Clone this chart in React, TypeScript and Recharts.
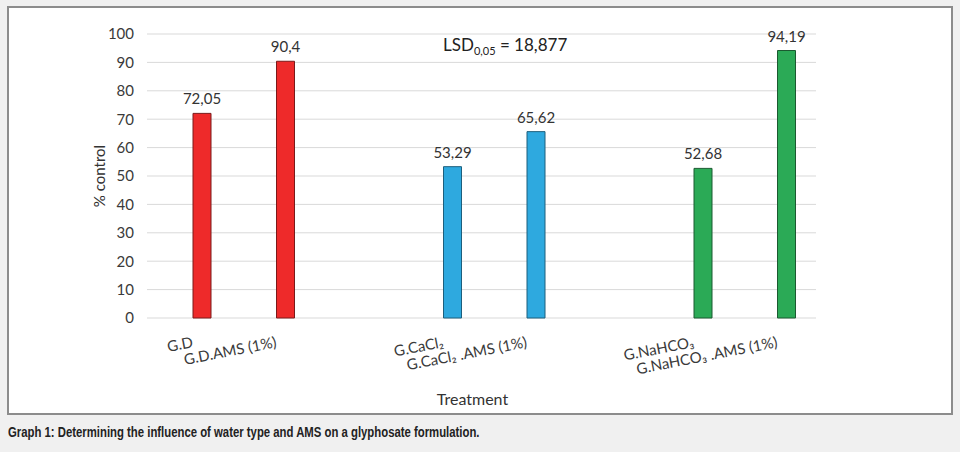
import React from 'react';
import { BarChart, Bar, XAxis, YAxis, CartesianGrid, Cell, LabelList } from 'recharts';

const categories = ['G.D', 'G.D.AMS (1%)', '', 'G.CaCl₂', 'G.CaCl₂ .AMS (1%)', '', 'G.NaHCO₃', 'G.NaHCO₃ .AMS (1%)'];
const values: (number | null)[] = [72.05, 90.4, null, 53.29, 65.62, null, 52.68, 94.19];
const colors = ['#EE2A2A', '#EE2A2A', '#fff', '#2EA9DF', '#2EA9DF', '#fff', '#2BAA56', '#2BAA56'];
const strokes = ['#7a1a1a', '#7a1a1a', '#fff', '#1d5f7d', '#1d5f7d', '#fff', '#1b5a30', '#1b5a30'];
const yTicks = [0, 10, 20, 30, 40, 50, 60, 70, 80, 90, 100];

const data = categories.map((c, i) => ({ name: c || ' '.repeat(i + 1), label: c, value: values[i] }));

const FONT = 'Lato, "Open Sans", sans-serif';

const XTick = (props: any) => {
  const { x, y, index } = props;
  const label = categories[index];
  if (!label) return null;
  return (
    <text
      x={x - 8}
      y={y + 27}
      textAnchor="end"
      fontSize={15}
      fontFamily={FONT}
      fill="#3a3a3a"
      transform={`rotate(-11, ${x - 8}, ${y + 27})`}
    >
      {label}
    </text>
  );
};

export default function App() {
  return (
    <div style={{ position: 'fixed', left: 0, top: 0, width: 960, height: 452, background: '#f0f0f0', overflow: 'hidden' }}>
      <div
        style={{
          position: 'absolute',
          left: 7,
          top: 6,
          width: 942,
          height: 405,
          background: '#fff',
          border: '2px solid #8c8c8c',
        }}
      />
      <div style={{ position: 'absolute', left: 0, top: 0 }}>
        <BarChart
          width={960}
          height={452}
          data={data}
          margin={{ top: 34, right: 144, left: 87, bottom: 44 }}
        >
          <CartesianGrid vertical={false} stroke="#d9d9d9" strokeWidth={1} />
          <XAxis
            dataKey="name"
            type="category"
            interval={0}
            tickLine={false}
            axisLine={false}
            tickSize={0}
            height={90}
            padding={{ left: 13, right: -12 }}
            tick={<XTick />}
            label={{ value: 'Treatment', position: 'insideBottom', offset: 3, dx: -9, fontSize: 16, fill: '#333', fontFamily: FONT }}
          />
          <YAxis
            domain={[0, 100]}
            ticks={yTicks}
            interval={0}
            width={60}
            tickLine={false}
            axisLine={false}
            tickSize={0}
            tickMargin={13}
            tick={{ fontSize: 15, fill: '#3a3a3a', fontFamily: FONT }}
            label={{ value: '% control', angle: -90, position: 'insideLeft', offset: 13, fontSize: 15, fill: '#333', fontFamily: FONT, style: { textAnchor: 'middle' } }}
          />
          <Bar dataKey="value" barSize={18} isAnimationActive={false}>
            {data.map((d, i) => (
              <Cell key={i} fill={colors[i]} stroke={strokes[i]} strokeWidth={1} />
            ))}
            <LabelList
              dataKey="value"
              position="top"
              offset={9}
              fontSize={15}
              fill="#333"
              fontFamily={FONT}
              formatter={(v: any) => (v == null ? '' : String(v).replace('.', ','))}
            />
          </Bar>
        </BarChart>
      </div>
      <div
        style={{
          position: 'absolute',
          left: 443,
          top: 35,
          fontFamily: FONT,
          fontSize: 17,
          color: '#222',
          whiteSpace: 'nowrap',
          lineHeight: '20px',
        }}
      >
        LSD<sub style={{ fontSize: 11 }}>0,05</sub> = 18,877
      </div>
      <div
        style={{
          position: 'absolute',
          left: 8,
          top: 424,
          fontFamily: '"Liberation Sans", Arial, sans-serif',
          fontWeight: 'bold',
          fontSize: 14,
          color: '#222',
          whiteSpace: 'nowrap',
          transform: 'scaleX(0.81)',
          transformOrigin: 'left top',
        }}
      >
        Graph 1: Determining the influence of water type and AMS on a glyphosate formulation.
      </div>
    </div>
  );
}
